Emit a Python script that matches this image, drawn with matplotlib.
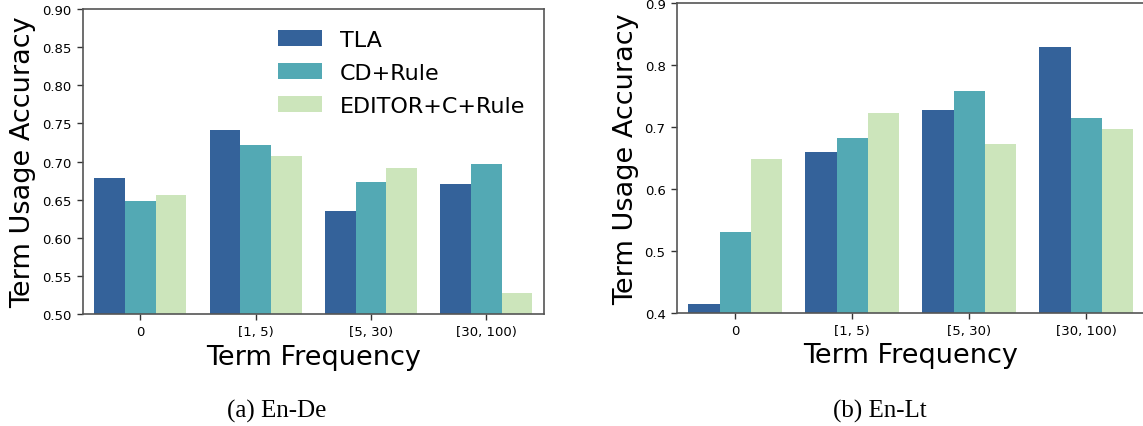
import numpy as np
import matplotlib
matplotlib.use("Agg")
import matplotlib.pyplot as plt

categories = ["0", "[1, 5)", "[5, 30)", "[30, 100)"]
series_names = ["TLA", "CD+Rule", "EDITOR+C+Rule"]

ende_tla = [0.679, 0.741, 0.635, 0.670]
ende_cd = [0.648, 0.722, 0.673, 0.697]
ende_editor = [0.656, 0.707, 0.691, 0.528]

enlt_tla = [0.414, 0.659, 0.727, 0.829]
enlt_cd = [0.530, 0.682, 0.758, 0.714]
enlt_editor = [0.648, 0.722, 0.672, 0.697]

colors = ["#34629a", "#53a9b4", "#cce5bb"]

plt.rcParams["font.family"] = ["DejaVu Sans"]

W, H = 1143, 427
fig = plt.figure(figsize=(W / 100, H / 100), dpi=100)

ax1 = fig.add_axes([82.7 / W, (H - 315) / H, 461.3 / W, 305 / H])
ax2 = fig.add_axes([676.7 / W, (H - 313.7) / H, 468 / W, 309.7 / H])

def draw(ax, data, ylim, yticks, fmt):
    x = np.arange(len(categories))
    w = 0.8 / 3
    for i, (vals, name) in enumerate(zip(data, series_names)):
        ax.bar(x + (i - 1) * w, np.array(vals) - ylim[0], width=w, bottom=ylim[0],
               color=colors[i], label=name, linewidth=0)
    ax.set_xlim(-0.5, 3.5)
    ax.set_ylim(*ylim)
    ax.set_xticks(x)
    ax.set_xticklabels(categories, fontsize=9.5)
    ax.set_yticks(yticks)
    ax.set_yticklabels([fmt.format(v) for v in yticks], fontsize=9.5)
    ax.set_xlabel("Term Frequency", fontsize=19.5, labelpad=4)
    ax.set_ylabel("Term Usage Accuracy", fontsize=19.5, labelpad=4)
    for s in ax.spines.values():
        s.set_color("#555555")
        s.set_linewidth(1.2)
    ax.tick_params(axis="both", colors="#333333", labelcolor="black", length=4.5, width=1.0)

draw(ax1, [ende_tla, ende_cd, ende_editor], (0.5, 0.9),
     [0.50, 0.55, 0.60, 0.65, 0.70, 0.75, 0.80, 0.85, 0.90], "{:.2f}")
draw(ax2, [enlt_tla, enlt_cd, enlt_editor], (0.4, 0.9),
     [0.4, 0.5, 0.6, 0.7, 0.8, 0.9], "{:.1f}")

ax1.legend(loc="upper left", bbox_to_anchor=((278 - 82.7) / 461.3, 0.932),
           frameon=False, fontsize=16, borderpad=0, borderaxespad=0,
           labelspacing=0.58, handlelength=2.0, handleheight=0.7, handletextpad=0.8)

fig.text(277 / W, 1 - 411.7 / H, "(a) En-De", ha="center", va="center",
         fontsize=18, family=["Liberation Serif"])
fig.text(880 / W, 1 - 411.7 / H, "(b) En-Lt", ha="center", va="center",
         fontsize=18, family=["Liberation Serif"])

fig.savefig("out.png", dpi=100)
